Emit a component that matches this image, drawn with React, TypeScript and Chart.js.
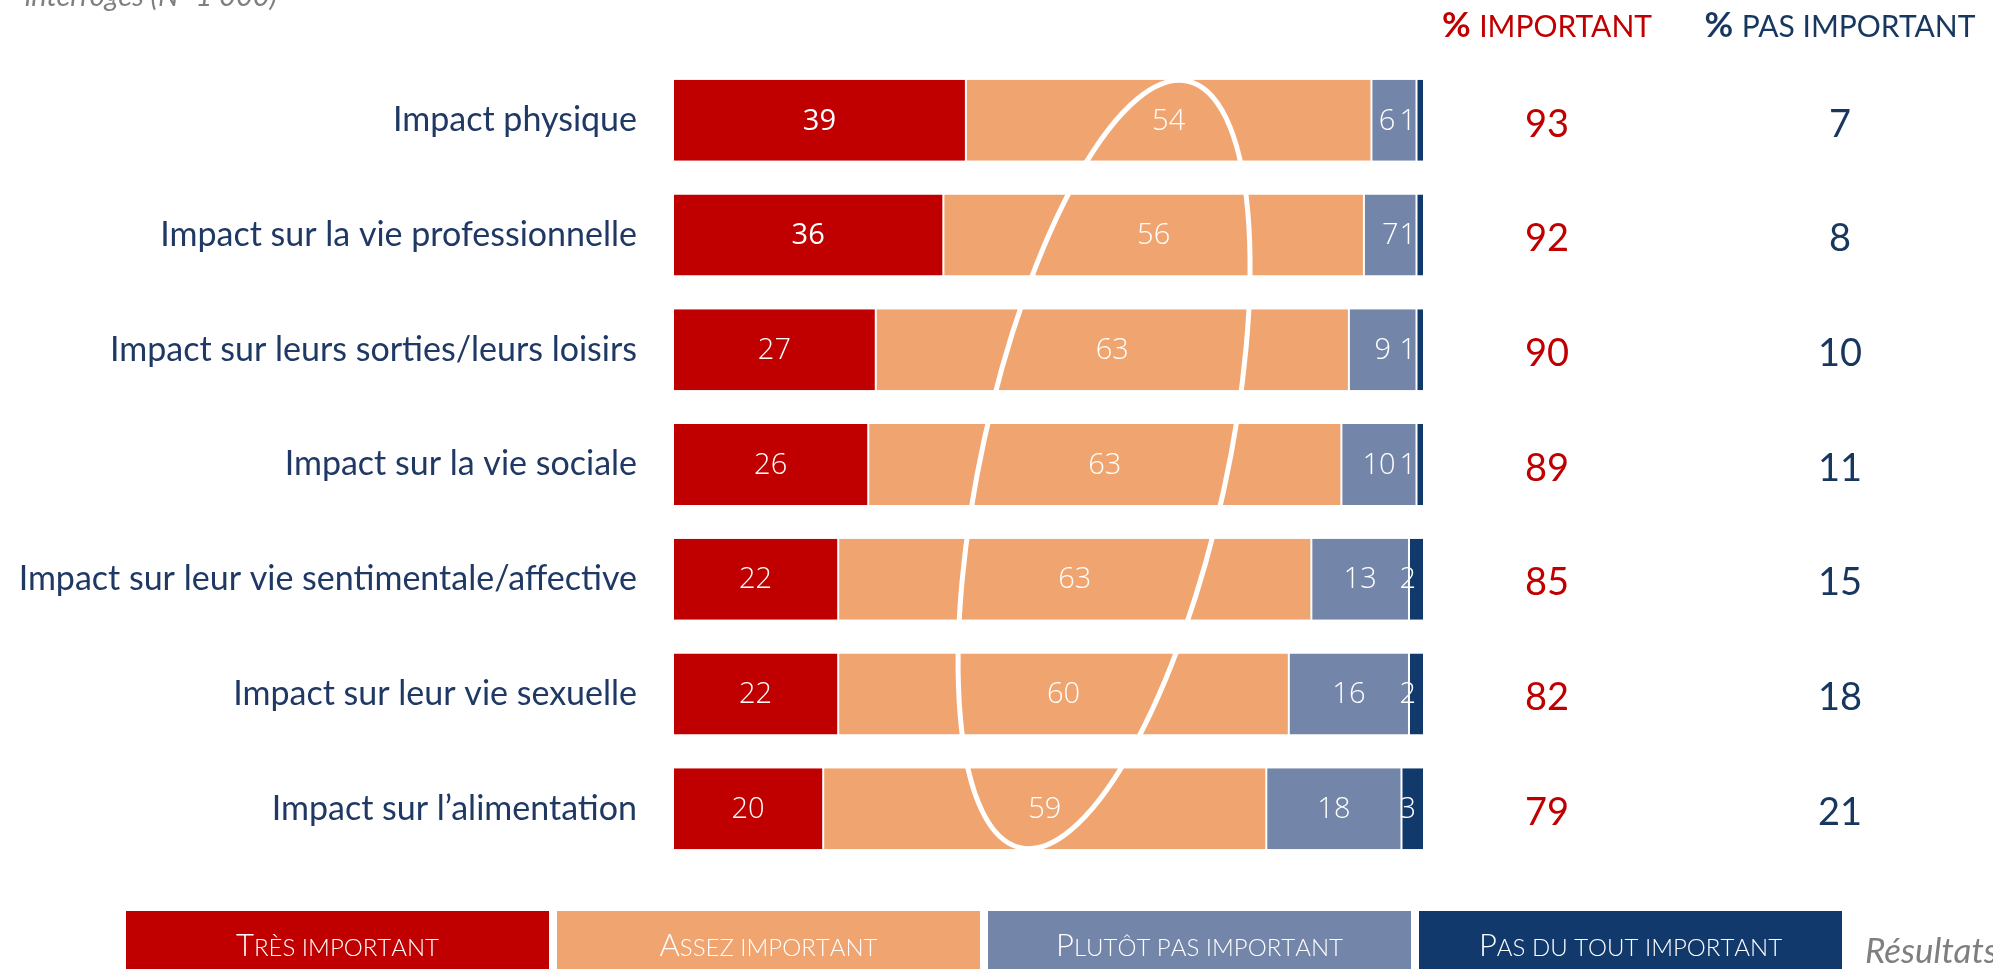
import React, { useEffect, useRef } from 'react';
import { Chart, registerables } from 'chart.js';

Chart.register(...registerables);

const categories = [
  'Impact physique',
  'Impact sur la vie professionnelle',
  'Impact sur leurs sorties/leurs loisirs',
  'Impact sur la vie sociale',
  'Impact sur leur vie sentimentale/affective',
  'Impact sur leur vie sexuelle',
  'Impact sur l’alimentation',
];
const tresImportant = [39, 36, 27, 26, 22, 22, 20];
const assezImportant = [54, 56, 63, 63, 63, 60, 59];
const plutotPasImportant = [6, 7, 9, 10, 13, 16, 18];
const pasDuToutImportant = [1, 1, 1, 1, 2, 2, 3];
const totalImportant = [93, 92, 90, 89, 85, 82, 79];
const totalPasImportant = [7, 8, 10, 11, 15, 18, 21];
const seriesNames = ['Très important', 'Assez important', 'Plutôt pas important', 'Pas du tout important'];
const seriesColors = ['#C00000', '#F0A571', '#7385A8', '#11396B'];
const headerImportant = 'IMPORTANT';
const headerPasImportant = 'PAS IMPORTANT';
const sourceNote = 'interrogés (N=1 000)';
const footNote = 'Résultats';

const RED = '#C00000';
const NAVY = '#1F3864';
const NAVY2 = '#17375E';
const GRAY = '#7F7F7F';

function drawSmallCaps(ctx: CanvasRenderingContext2D, text: string, cx: number, baseline: number, big: number, small: number, family: string, color: string) {
  const parts: { ch: string; size: number }[] = [];
  for (const ch of text) {
    const isUpper = ch !== ch.toLowerCase();
    parts.push({ ch: ch.toUpperCase(), size: isUpper ? big : small });
  }
  let total = 0;
  for (const p of parts) {
    ctx.font = `300 ${p.size}px ${family}`;
    total += ctx.measureText(p.ch).width;
  }
  let x = cx - total / 2;
  ctx.fillStyle = color;
  ctx.textAlign = 'left';
  ctx.textBaseline = 'alphabetic';
  for (const p of parts) {
    ctx.font = `300 ${p.size}px ${family}`;
    ctx.fillText(p.ch, x, baseline);
    x += ctx.measureText(p.ch).width;
  }
}

const decorPlugin = {
  id: 'decor',
  afterDatasetsDraw(chart: any) {
    const ctx: CanvasRenderingContext2D = chart.ctx;
    const xs = chart.scales.x;
    const ys = chart.scales.y;
    // white decorative loop over the bars
    const rowStep = ys.getPixelForValue(1) - ys.getPixelForValue(0);
    const fullW = xs.getPixelForValue(100) - xs.getPixelForValue(0);
    ctx.save();
    ctx.beginPath();
    ctx.ellipse(xs.getPixelForValue(57.4), ys.getPixelForValue(3), 0.163 * fullW, 3.42 * rowStep, 0.215, 0, Math.PI * 2);
    ctx.strokeStyle = '#FFFFFF';
    ctx.lineWidth = 5;
    ctx.stroke();
    ctx.restore();

    // value labels inside segments
    ctx.save();
    ctx.fillStyle = '#FFFFFF';
    ctx.textBaseline = 'middle';
    const nSets = chart.data.datasets.length;
    chart.data.datasets.forEach((ds: any, di: number) => {
      const meta = chart.getDatasetMeta(di);
      meta.data.forEach((el: any, i: number) => {
        const v = ds.data[i];
        const strong = di === 0 && i < 2;
        ctx.font = `${strong ? 500 : 300} 29px "Open Sans"`;
        const right = Math.max(el.x, el.base);
        const left = Math.min(el.x, el.base);
        if (di === nSets - 1) {
          ctx.textAlign = 'right';
          ctx.fillText(String(v), right - 8, el.y + 1);
        } else if (di === nSets - 2 && right - left < 50) {
          ctx.textAlign = 'center';
          ctx.fillText(String(v), (left + right) / 2 - 7, el.y + 1);
        } else {
          ctx.textAlign = 'center';
          ctx.fillText(String(v), (left + right) / 2, el.y + 1);
        }
      });
    });
    ctx.restore();
  },
  afterDraw(chart: any) {
    const ctx: CanvasRenderingContext2D = chart.ctx;
    const ys = chart.scales.y;
    const right = chart.chartArea.right;
    const col1 = right + 123;
    const col2 = right + 416;
    ctx.save();
    // headers
    const drawHeader = (label: string, cx: number, color: string) => {
      ctx.font = 'bold 35px Lato';
      const wp = ctx.measureText('% ').width;
      ctx.font = '30px Lato';
      const wl = ctx.measureText(label).width;
      let x = cx - (wp + wl) / 2;
      ctx.fillStyle = color;
      ctx.textAlign = 'left';
      ctx.textBaseline = 'alphabetic';
      ctx.font = 'bold 35px Lato';
      ctx.fillText('%', x, 37);
      x += wp;
      ctx.font = '30px Lato';
      ctx.fillText(label, x, 37);
    };
    drawHeader(headerImportant, col1, RED);
    drawHeader(headerPasImportant, col2, NAVY2);

    // totals
    ctx.textAlign = 'center';
    ctx.textBaseline = 'middle';
    ctx.font = '38px Lato';
    totalImportant.forEach((v, i) => {
      ctx.fillStyle = RED;
      ctx.fillText(String(v), col1, ys.getPixelForValue(i) + 4);
    });
    totalPasImportant.forEach((v, i) => {
      ctx.fillStyle = NAVY2;
      ctx.fillText(String(v), col2, ys.getPixelForValue(i) + 4);
    });

    // legend
    const boxW = 423;
    const gap = 8;
    const top = 911;
    seriesNames.forEach((name, i) => {
      const x0 = 126 + i * (boxW + gap);
      ctx.fillStyle = seriesColors[i];
      ctx.fillRect(x0, top, boxW, 70);
      drawSmallCaps(ctx, name, x0 + boxW / 2, 956, 31, 24, 'Lato', '#FFFFFF');
    });

    // notes
    ctx.fillStyle = GRAY;
    ctx.font = 'italic 35px Lato';
    ctx.textAlign = 'left';
    ctx.textBaseline = 'alphabetic';
    ctx.fillText(footNote, 1865, 963);
    ctx.textAlign = 'right';
    ctx.font = 'italic 29px Lato';
    ctx.fillText(sourceNote, 277, 6);
    ctx.restore();
  },
};

export default function App() {
  const ref = useRef<HTMLCanvasElement | null>(null);
  useEffect(() => {
    if (!ref.current) return;
    const datasetsValues = [tresImportant, assezImportant, plutotPasImportant, pasDuToutImportant];
    const chart = new Chart(ref.current, {
      type: 'bar',
      data: {
        labels: categories,
        datasets: datasetsValues.map((vals, i) => ({
          label: seriesNames[i],
          data: vals,
          backgroundColor: seriesColors[i],
          borderColor: '#FFFFFF',
          borderWidth: { left: 1, right: 1, top: 0, bottom: 0 },
          borderSkipped: false,
          categoryPercentage: 1,
          barPercentage: 0.706,
        })),
      },
      options: {
        indexAxis: 'y',
        animation: false,
        responsive: false,
        devicePixelRatio: 1,
        layout: { padding: { top: 63, bottom: 103, right: 569, left: 0 } },
        plugins: {
          legend: { display: false },
          tooltip: { enabled: false },
          title: { display: false },
        },
        scales: {
          x: {
            stacked: true,
            min: 0,
            max: 100,
            display: false,
          },
          y: {
            stacked: true,
            grid: { display: false, drawTicks: false },
            border: { display: false },
            ticks: {
              color: NAVY,
              font: { family: 'Lato', size: 34 },
              padding: 36,
            },
            afterFit: (scale: any) => {
              scale.width = 673;
            },
          },
        },
      },
      plugins: [decorPlugin],
    } as any);
    return () => chart.destroy();
  }, []);
  return (
    <div style={{ position: 'fixed', left: 0, top: 0, width: 1993, height: 969, background: '#FFFFFF', overflow: 'hidden' }}>
      <canvas ref={ref} width={1993} height={969} style={{ width: 1993, height: 969, display: 'block' }} />
    </div>
  );
}
